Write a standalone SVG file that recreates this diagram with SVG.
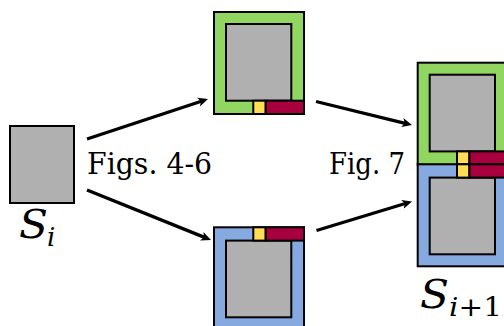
<svg xmlns="http://www.w3.org/2000/svg" width="504" height="326" viewBox="0 0 504 326">
  <style>
    .frame { stroke: #000; stroke-width: 2; }
    .green { fill: #90d660; }
    .blue { fill: #86aadf; }
    .core { fill: #b0b0b0; stroke: #000; stroke-width: 2; }
    .yel { fill: #ffdd55; stroke: #000; stroke-width: 2; }
    .red { fill: #a8003f; stroke: #000; stroke-width: 2; }
    .edge { fill: none; stroke: #000; stroke-width: 3.3; }
    text { font-family: 'DejaVu Serif', serif; fill: #000; }
    .math { font-style: italic; }
  </style>
  <defs>
    <marker id="head" markerUnits="userSpaceOnUse" markerWidth="12" markerHeight="12" viewBox="0 -6 12 12" refX="3" refY="0" orient="auto">
      <path d="M0,-4.6 L10,0 L0,4.6 L2.6,0 z" fill="#000"/>
    </marker>
    <!-- block with its strip along the bottom edge -->
    <g id="blockDown">
      <rect x="0" y="0" width="90" height="102" class="frame"/>
      <rect x="12" y="12" width="65.3" height="76.7" class="core"/>
      <rect x="39.3" y="88.7" width="12.4" height="13.3" class="yel"/>
      <rect x="51.7" y="88.7" width="38.3" height="13.3" class="red"/>
    </g>
    <!-- block with its strip along the top edge -->
    <g id="blockUp">
      <rect x="0" y="0" width="90" height="102" class="frame"/>
      <rect x="12" y="13.3" width="65.3" height="76.7" class="core"/>
      <rect x="39.3" y="0" width="12.4" height="13.3" class="yel"/>
      <rect x="51.7" y="0" width="38.3" height="13.3" class="red"/>
    </g>
  </defs>

  <!-- source state -->
  <g id="node-si">
    <rect x="10" y="126" width="64" height="77" class="core"/>
    <text class="math" x="19" y="238" font-size="40" textLength="29" lengthAdjust="spacingAndGlyphs">S</text>
    <text class="math" x="47" y="246" font-size="26">i</text>
  </g>

  <!-- upper branch -->
  <g id="node-top" class="green">
    <use href="#blockDown" x="214" y="12"/>
  </g>

  <!-- lower branch -->
  <g id="node-bottom" class="blue">
    <use href="#blockUp" x="214" y="227.3"/>
  </g>

  <!-- merged state -->
  <g id="node-si1">
    <g class="green"><use href="#blockDown" x="417.7" y="62.7"/></g>
    <g class="blue"><use href="#blockUp" x="417.7" y="164.3"/></g>
    <text class="math" x="420" y="308" font-size="40" textLength="29" lengthAdjust="spacingAndGlyphs">S</text>
    <text x="449" y="316" font-size="26" textLength="53" lengthAdjust="spacingAndGlyphs"><tspan class="math">i</tspan>+1</text>
  </g>

  <!-- connectors -->
  <g id="edges">
    <line class="edge" x1="87" y1="139" x2="201.35" y2="101.2" marker-end="url(#head)"/>
    <line class="edge" x1="87" y1="190" x2="204.5" y2="237.4" marker-end="url(#head)"/>
    <line class="edge" x1="316" y1="101.5" x2="405.2" y2="123.3" marker-end="url(#head)"/>
    <line class="edge" x1="316.5" y1="230.5" x2="405.3" y2="203.5" marker-end="url(#head)"/>
  </g>

  <!-- edge labels -->
  <g id="labels">
    <text x="87" y="174" font-size="29" textLength="125" lengthAdjust="spacingAndGlyphs">Figs. 4-6</text>
    <text x="329" y="174" font-size="29" textLength="76" lengthAdjust="spacingAndGlyphs">Fig. 7</text>
  </g>
</svg>
